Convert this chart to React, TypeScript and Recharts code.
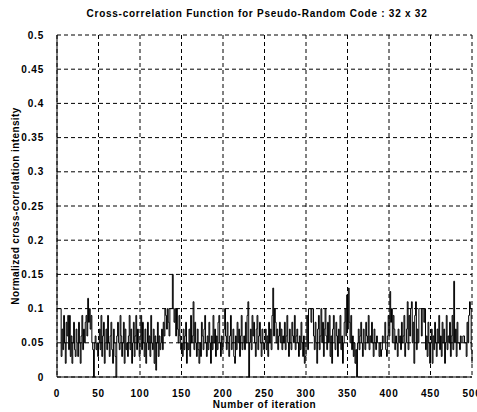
import React from "react";
import { LineChart, Line, XAxis, YAxis, CartesianGrid, Label } from "recharts";

// normalized cross-correlation intensity per iteration (0..500)
const intensity: number[] = [
  0.1, 0.1, 0.1, 0.1, 0.1, 0.03, 0.07, 0.04, 0.09, 0.05, 0.02, 0.08, 0.06, 0.09, 0.04, 0.09, 0.03, 0.06, 0.02, 0.05, 0.08, 0.04, 0.03, 0.07, 0.05,
  0.03, 0.08, 0.05, 0.02, 0.06, 0.09, 0.04, 0.07, 0.05, 0.08, 0.09, 0.06, 0.115, 0.08, 0.1, 0.07, 0.09, 0.05, 0.04, 0, 0.05, 0.06, 0.04, 0.05, 0.03,
  0.05, 0.07, 0.04, 0.09, 0.03, 0.06, 0.08, 0.02, 0.05, 0.07, 0.04, 0.09, 0.05, 0.03, 0.06, 0.08, 0.04, 0.02, 0.07, 0.05, 0.03, 0, 0.06, 0.08, 0.05,
  0.04, 0.09, 0.06, 0.03, 0.05, 0.08, 0.02, 0.07, 0.04, 0.05, 0.03, 0.06, 0.09, 0.04, 0.07, 0.02, 0.05, 0.08, 0.03, 0.06, 0.09, 0.04, 0.07, 0.05, 0.03,
  0.06, 0.09, 0.04, 0.08, 0.05, 0.03, 0.07, 0.02, 0.05, 0.08, 0.04, 0.06, 0.03, 0.09, 0.05, 0.04, 0.07, 0.02, 0.06, 0.01, 0.05, 0.08, 0.03, 0.06, 0.04,
  0.05, 0.07, 0.04, 0.08, 0.06, 0.1, 0.09, 0.07, 0.1, 0.08, 0.06, 0.1, 0.1, 0.1, 0.15, 0.1, 0.08, 0.1, 0.06, 0.1, 0.07, 0.05, 0.09, 0.06, 0.04,
  0.05, 0.03, 0.07, 0.04, 0.06, 0.08, 0.02, 0.05, 0.04, 0.07, 0.03, 0.09, 0.05, 0.06, 0.11, 0.04, 0.08, 0.05, 0.03, 0.07, 0.04, 0.02, 0.05, 0.03, 0.08,
  0.06, 0.04, 0.07, 0.09, 0.05, 0.03, 0.06, 0.04, 0.08, 0.05, 0.02, 0.06, 0.04, 0.09, 0.05, 0.07, 0.03, 0.06, 0.04, 0.08, 0.09, 0.05, 0.03, 0.06, 0.04,
  0.05, 0.07, 0.1, 0.06, 0.04, 0.08, 0.05, 0.03, 0.06, 0.09, 0.04, 0.05, 0.07, 0.03, 0.02, 0.06, 0.04, 0.08, 0.05, 0.07, 0.03, 0.06, 0.09, 0.04, 0.05,
  0.06, 0.04, 0.08, 0.05, 0.09, 0.11, 0, 0.05, 0.07, 0.04, 0.09, 0.06, 0.08, 0.05, 0.03, 0.07, 0.09, 0.04, 0.06, 0.08, 0.05, 0.03, 0.07, 0.05, 0.04,
  0.05, 0.07, 0.04, 0.06, 0.03, 0.08, 0.05, 0.07, 0.04, 0.09, 0.13, 0.06, 0.1, 0.08, 0.05, 0.07, 0.04, 0.06, 0.08, 0.05, 0.07, 0.04, 0.06, 0.05, 0.08,
  0.04, 0.06, 0.09, 0.05, 0.03, 0.07, 0.05, 0.04, 0.08, 0.06, 0.05, 0.09, 0.04, 0.06, 0.07, 0.05, 0.03, 0.06, 0.04, 0.08, 0.05, 0.03, 0.06, 0.02, 0.03,
  0.05, 0.09, 0.04, 0.1, 0.1, 0.1, 0.08, 0.1, 0.1, 0.06, 0.04, 0.08, 0.05, 0.02, 0.07, 0.09, 0.04, 0.06, 0.1, 0.05, 0.08, 0.03, 0.07, 0.1, 0.06,
  0.04, 0.08, 0.05, 0.09, 0.03, 0.06, 0.02, 0.07, 0.09, 0.05, 0.04, 0.08, 0.06, 0.03, 0.07, 0.05, 0.09, 0.04, 0.06, 0.02, 0.05, 0.08, 0.1, 0.06, 0.12,
  0.07, 0.13, 0.08, 0.05, 0.09, 0.04, 0.06, 0.03, 0.05, 0.02, 0.04, 0, 0.05, 0.07, 0.04, 0.06, 0.08, 0.05, 0.03, 0.07, 0.05, 0.04, 0.08, 0.06, 0.05,
  0.09, 0.04, 0.06, 0.05, 0.08, 0.05, 0.03, 0.07, 0.05, 0.04, 0.06, 0.05, 0.05, 0.03, 0.05, 0.03, 0.04, 0.06, 0.05, 0.05, 0.08, 0.04, 0.03, 0.06, 0.09,
  0.06, 0.125, 0.08, 0.1, 0.05, 0.09, 0.07, 0.04, 0.06, 0.05, 0.03, 0.07, 0.05, 0.06, 0.04, 0.08, 0.05, 0.06, 0.09, 0.03, 0.05, 0.07, 0.11, 0.04, 0.09,
  0.06, 0.1, 0.11, 0.05, 0.08, 0.02, 0.09, 0.11, 0.04, 0.07, 0.05, 0.1, 0.1, 0.1, 0.06, 0.1, 0.1, 0.08, 0.1, 0.04, 0.06, 0.03, 0.08, 0.05, 0.02,
  0.05, 0.07, 0.02, 0.06, 0.04, 0.08, 0.05, 0.03, 0.07, 0.05, 0.09, 0.04, 0.06, 0.03, 0.08, 0.05, 0.07, 0.02, 0.05, 0.09, 0.04, 0.06, 0.05, 0.08, 0.03,
  0.06, 0.09, 0.04, 0.14, 0.05, 0.07, 0.03, 0.08, 0.05, 0.05, 0.04, 0.06, 0.05, 0.05, 0.06, 0.06, 0.05, 0.05, 0.03, 0.08, 0.05, 0.09, 0.11, 0.1, 0.04,
  0.02,
];

const xTicks = [0, 50, 100, 150, 200, 250, 300, 350, 400, 450, 500];
const yTicks = [0, 0.05, 0.1, 0.15, 0.2, 0.25, 0.3, 0.35, 0.4, 0.45, 0.5];

const title = "Cross-correlation Function for Pseudo-Random Code : 32 x 32";
const xLabel = "Number of iteration";
const yLabel = "Normalized cross-correlation intensity";

const data = intensity.map((value, iteration) => ({ iteration, value }));

const font = "'Liberation Sans', Arial, sans-serif";
const tickStyle = { fontSize: 10, fill: "#000", fontFamily: font, fontWeight: "bold" as const, letterSpacing: 0.8 };

export default function App() {
  return (
    <div style={{ position: "absolute", top: 0, left: 0, width: 477, height: 412, background: "#fff" }}>
      <div
        style={{
          position: "absolute",
          top: 8,
          left: 52,
          width: 410,
          textAlign: "center",
          fontFamily: font,
          fontSize: 10,
          fontWeight: "bold",
          letterSpacing: 0.75,
          lineHeight: "12px",
        }}
      >
        {title}
      </div>
      <LineChart
        width={477}
        height={412}
        data={data}
        margin={{ top: 35, right: 5, bottom: 0, left: 7 }}
      >
        <CartesianGrid stroke="#000" strokeDasharray="4 3" />
        <XAxis
          dataKey="iteration"
          type="number"
          domain={[0, 500]}
          ticks={xTicks}
          interval={0}
          height={35}
          tickLine={false}
          tickMargin={7}
          tick={tickStyle}
          axisLine={{ stroke: "#000" }}
        >
          <Label
            value={xLabel}
            position="insideBottom"
            offset={4}
            style={{ fontSize: 10, fill: "#000", fontFamily: font, fontWeight: "bold", letterSpacing: 0.6 }}
          />
        </XAxis>
        <YAxis
          type="number"
          domain={[0, 0.5]}
          ticks={yTicks}
          interval={0}
          width={50}
          tickLine={false}
          tickMargin={7}
          tick={tickStyle}
          axisLine={{ stroke: "#000" }}
        >
          <Label
            value={yLabel}
            angle={-90}
            position="insideLeft"
            offset={8}
            style={{ fontSize: 10, fill: "#000", fontFamily: font, fontWeight: "bold", textAnchor: "middle", letterSpacing: 0.4 }}
          />
        </YAxis>
        <Line
          type="stepAfter"
          dataKey="value"
          stroke="#000"
          strokeWidth={1}
          dot={false}
          isAnimationActive={false}
        />
      </LineChart>
    </div>
  );
}
